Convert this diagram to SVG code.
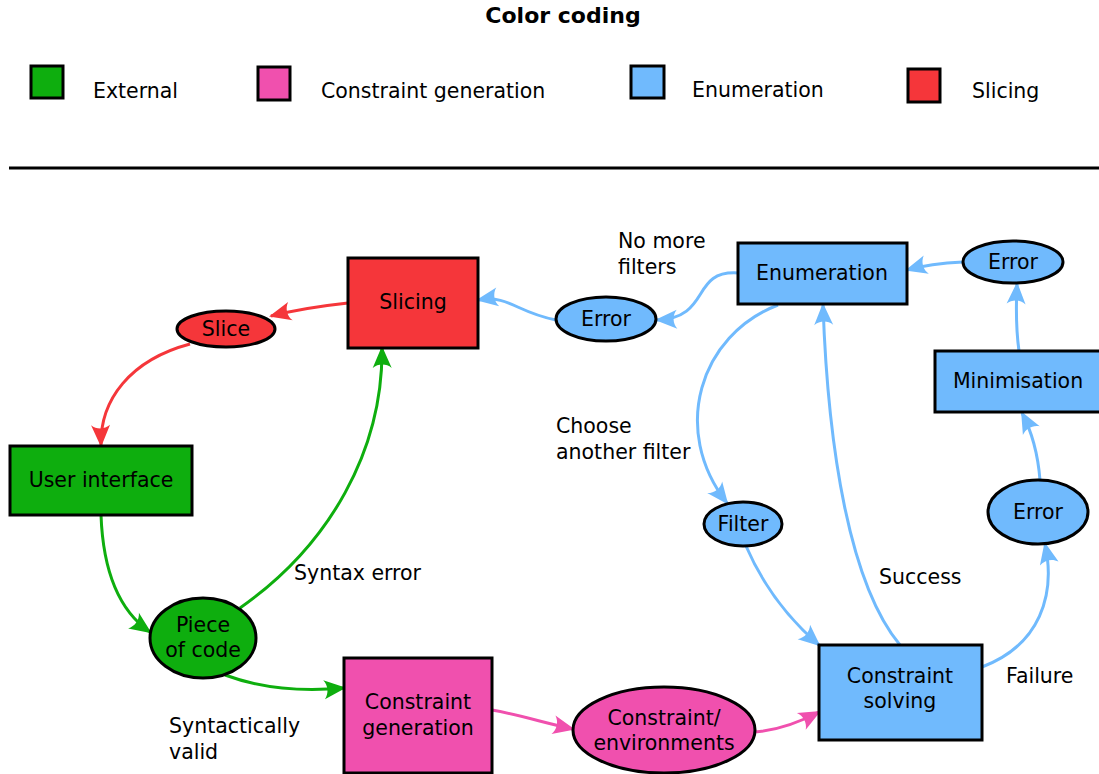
<svg xmlns="http://www.w3.org/2000/svg" width="1099" height="774" viewBox="0 0 1099 774">
<style>
text{font-family:"DejaVu Sans","Liberation Sans",sans-serif;font-size:20.5px;fill:#000}
.t{text-anchor:middle}
.title{font-weight:bold;font-size:22px}
.n{stroke:#000;stroke-width:3}
.g{fill:#0eae0e}.p{fill:#f050ae}.b{fill:#70bafd}.r{fill:#f5363a}
.e{fill:none;stroke-width:3}
.eg{stroke:#0eae0e}.ep{stroke:#f050ae}.eb{stroke:#70bafd}.er{stroke:#f5363a}
</style>
<defs>
<marker id="ag" markerUnits="userSpaceOnUse" markerWidth="26" markerHeight="24" viewBox="-22 -12 26 24" refX="0" refY="0" orient="auto"><path d="M2,0 L-20,-9.5 C-15.5,-4 -15.5,4 -20,9.5 Z" fill="#0eae0e"/></marker>
<marker id="ap" markerUnits="userSpaceOnUse" markerWidth="26" markerHeight="24" viewBox="-22 -12 26 24" refX="0" refY="0" orient="auto"><path d="M2,0 L-20,-9.5 C-15.5,-4 -15.5,4 -20,9.5 Z" fill="#f050ae"/></marker>
<marker id="ab" markerUnits="userSpaceOnUse" markerWidth="26" markerHeight="24" viewBox="-22 -12 26 24" refX="0" refY="0" orient="auto"><path d="M2,0 L-20,-9.5 C-15.5,-4 -15.5,4 -20,9.5 Z" fill="#70bafd"/></marker>
<marker id="ar" markerUnits="userSpaceOnUse" markerWidth="26" markerHeight="24" viewBox="-22 -12 26 24" refX="0" refY="0" orient="auto"><path d="M2,0 L-20,-9.5 C-15.5,-4 -15.5,4 -20,9.5 Z" fill="#f5363a"/></marker>
</defs>
<rect width="1099" height="774" fill="#fff"/>
<g id="legend">
<text x="563" y="23" class="t title">Color coding</text>
<rect x="31" y="66" width="32" height="32" class="n g"/>
<text x="93" y="98">External</text>
<rect x="258" y="67" width="32" height="33" class="n p"/>
<text x="321" y="98">Constraint generation</text>
<rect x="631" y="66" width="33" height="32" class="n b"/>
<text x="692" y="97">Enumeration</text>
<rect x="908" y="69" width="32" height="33" class="n r"/>
<text x="972" y="98">Slicing</text>
<line x1="9" y1="168" x2="1099" y2="168" stroke="#000" stroke-width="3"/>
</g>
<g id="connectors">
<path class="e er" d="M348,303 C320,306 295,310 271,316" marker-end="url(#ar)"/>
<path class="e er" d="M190,344 C130,360 100,400 101,445" marker-end="url(#ar)"/>
<path class="e eg" d="M101,515 C103,570 118,610 150,632" marker-end="url(#ag)"/>
<path class="e eg" d="M240,608 C330,545 383,450 382,348" marker-end="url(#ag)"/>
<path class="e eg" d="M225,675 C260,688 300,692 344,688" marker-end="url(#ag)"/>
<path class="e ep" d="M492,710 C520,715 545,723 573,729" marker-end="url(#ap)"/>
<path class="e ep" d="M755,732 C780,730 800,722 819,712" marker-end="url(#ap)"/>
<path class="e eb" d="M746,546 C765,590 790,620 819,645" marker-end="url(#ab)"/>
<path class="e eb" d="M778,305 C700,335 670,430 727,503" marker-end="url(#ab)"/>
<path class="e eb" d="M900,645 C850,585 828,450 823,305" marker-end="url(#ab)"/>
<path class="e eb" d="M982,667 C1040,645 1056,595 1045,544" marker-end="url(#ab)"/>
<path class="e eb" d="M1040,480 C1038,455 1032,432 1022,413" marker-end="url(#ab)"/>
<path class="e eb" d="M1019,351 C1016,330 1016,306 1017,284" marker-end="url(#ab)"/>
<path class="e eb" d="M963,262 C942,263 925,265 907,270" marker-end="url(#ab)"/>
<path class="e eb" d="M738,273 C690,270 712,318 657,320" marker-end="url(#ab)"/>
<path class="e eb" d="M556,320 C515,312 510,295 478,300" marker-end="url(#ab)"/>
</g>
<g id="slicing"><rect x="348" y="258" width="130" height="90" class="n r"/><text x="413" y="309" class="t">Slicing</text></g>
<g id="slice"><ellipse cx="226" cy="329" rx="49" ry="18" class="n r"/><text x="226" y="336" class="t">Slice</text></g>
<g id="user-interface"><rect x="10" y="446" width="182" height="69" class="n g"/><text x="101" y="487" class="t">User interface</text></g>
<g id="piece-of-code"><ellipse cx="203" cy="638" rx="53" ry="40" class="n g"/><text x="203" y="632" class="t">Piece</text><text x="203" y="657" class="t">of code</text></g>
<g id="constraint-generation"><rect x="344" y="658" width="148" height="115" class="n p"/><text x="418" y="709" class="t">Constraint</text><text x="418" y="735" class="t">generation</text></g>
<g id="constraint-environments"><ellipse cx="664" cy="730" rx="91" ry="43" class="n p"/><text x="664" y="725" class="t">Constraint/</text><text x="664" y="750" class="t">environments</text></g>
<g id="constraint-solving"><rect x="819" y="645" width="163" height="95" class="n b"/><text x="900" y="683" class="t">Constraint</text><text x="900" y="708" class="t">solving</text></g>
<g id="filter"><ellipse cx="743" cy="524" rx="39" ry="22" class="n b"/><text x="743" y="531" class="t">Filter</text></g>
<g id="error-left"><ellipse cx="606" cy="319" rx="50" ry="22" class="n b"/><text x="606" y="326" class="t">Error</text></g>
<g id="enumeration"><rect x="738" y="243" width="169" height="61" class="n b"/><text x="822" y="280" class="t">Enumeration</text></g>
<g id="error-top"><ellipse cx="1013" cy="262" rx="50" ry="21" class="n b"/><text x="1013" y="269" class="t">Error</text></g>
<g id="minimisation"><rect x="935" y="351" width="166" height="61" class="n b"/><text x="1018" y="388" class="t">Minimisation</text></g>
<g id="error-right"><ellipse cx="1038" cy="512" rx="50" ry="32" class="n b"/><text x="1038" y="519" class="t">Error</text></g>
<g id="labels">
<text x="618" y="248">No more</text><text x="618" y="274">filters</text>
<text x="556" y="433">Choose</text><text x="556" y="459">another filter</text>
<text x="294" y="580">Syntax error</text>
<text x="169" y="733">Syntactically</text><text x="169" y="759">valid</text>
<text x="879" y="584">Success</text>
<text x="1006" y="683">Failure</text>
</g>
</svg>
